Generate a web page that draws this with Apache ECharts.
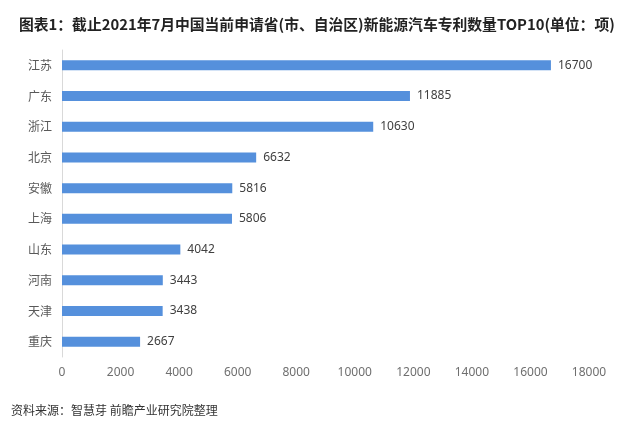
<!DOCTYPE html>
<html><head><meta charset="utf-8">
<script src="https://cdn.jsdelivr.net/npm/echarts@6/dist/echarts.min.js"></script>
<style>html,body{margin:0;padding:0;background:#fff}#c{width:640px;height:426px}</style>
</head><body><div id="c"></div>
<script>
const titleText = '图表1：截止2021年7月中国当前申请省(市、自治区)新能源汽车专利数量TOP10(单位：项)';
const sourceText = '资料来源：智慧芽 前瞻产业研究院整理';
const categories = ['江苏','广东','浙江','北京','安徽','上海','山东','河南','天津','重庆'];
const values = [16700,11885,10630,6632,5816,5806,4042,3443,3438,2667];
const xTicks = [0,2000,4000,6000,8000,10000,12000,14000,16000,18000];

const chart = echarts.init(document.getElementById('c'));
chart.setOption({
  backgroundColor:'#fff',
  animation:false,
  title:[{text:titleText,left:19,top:12,padding:[5,0,5,0],textStyle:{fontSize:14.8,fontWeight:'bold',color:'#222',fontFamily:'Noto Sans CJK SC'}},
         {text:sourceText,left:6,top:399,textStyle:{fontSize:12,fontWeight:'normal',color:'#333',fontFamily:'Noto Sans CJK SC'}}],
  grid:{left:62,right:51,top:50,bottom:69},
  xAxis:{type:'value',min:xTicks[0],max:xTicks[xTicks.length-1],interval:2000,
    axisLine:{show:false},axisTick:{show:false},splitLine:{show:false},
    axisLabel:{color:'#6f6f6f',fontSize:12,margin:10,fontFamily:'Noto Sans',formatter:v=>String(v)}},
  yAxis:{type:'category',data:categories,inverse:true,
    axisLine:{show:true,lineStyle:{color:'#d9d9d9'}},axisTick:{show:false},
    axisLabel:{color:'#595959',fontSize:12,margin:10,fontFamily:'Noto Sans CJK SC'}},
  series:[{type:'bar',data:values,barWidth:10,
    itemStyle:{color:'#5590dc'},
    label:{show:true,position:'right',distance:7,color:'#404040',fontSize:12,fontFamily:'Noto Sans'}}]
});
</script></body></html>
